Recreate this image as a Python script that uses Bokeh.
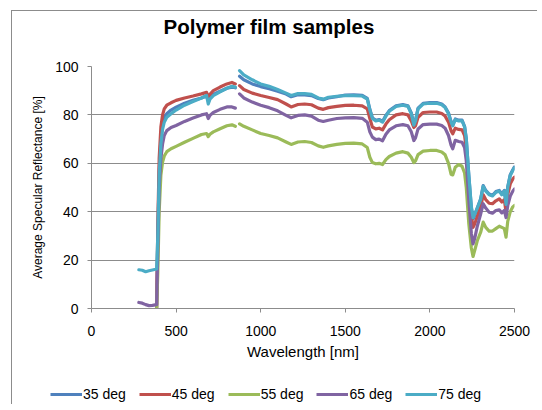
import math
from bokeh.plotting import figure
from bokeh.models import Legend, LegendItem, Range1d, FixedTicker, Title
from bokeh.embed import file_html
from bokeh.resources import INLINE

NAN = float("nan")

# Wavelength grid [nm]; NaN marks the detector-change gap
wavelength = [280, 300, 320, 340, 360, 385, 392, 400, 410, 420, 430, 445, 470, 500, 550, 600, 650, 680, 690, 700,
              720, 760, 800, 830, 850, NAN, 875, 900, 950, 1000, 1050, 1100, 1150, 1180, 1220, 1260, 1300, 1340,
              1370, 1400, 1450, 1500, 1550, 1600, 1630, 1645, 1660, 1680, 1700, 1720, 1740, 1760, 1800, 1840,
              1870, 1890, 1905, 1915, 1930, 1960, 2000, 2040, 2070, 2090, 2110, 2125, 2135, 2150, 2170, 2190,
              2205, 2215, 2230, 2245, 2255, 2265, 2280, 2300, 2315, 2330, 2350, 2370, 2390, 2410, 2425, 2440,
              2450, 2460, 2475, 2490, 2500]

deg35 = [NAN, NAN, NAN, NAN, NAN, 0.5, 30, 57, 70, 76, 79, 80.5, 82, 83.2, 84.8, 86, 87, 87.8, 86.5, 87,
         88.5, 89.8, 91, 91.5, 91.2, NAN, 96, 94.5, 92.8, 91.7, 90.8, 89.8, 88.6, 87.5, 88.3, 88.3, 88, 86.8,
         86.3, 87, 87.5, 88.2, 88.3, 88.1, 86.8, 82.3, 78.8, 77.8, 78.1, 77.3, 79.8, 81.8, 83.8, 84.3,
         83.8, 80.8, 76.1, 77.8, 82.8, 84.8, 85.1, 85.1, 84.5, 83.3, 80.8, 77.3, 75.8, 78.3, 77.8, 77.8,
         75.3, 70.3, 55, 41.5, 37, 38.5, 41.5, 45.3, 50.8, 48.8, 47.3, 46.8, 48.3, 48.8, 47.3, 48.8,
         43.3, 50.3, 55.3, 57.3, 58.5]

deg45 = [NAN, NAN, NAN, NAN, NAN, 0, 35, 62, 75, 80, 82.5, 84, 85, 86, 87, 87.8, 88.7, 89.3, 87.5, 88.5,
         90, 91.5, 92.8, 93.4, 92.8, NAN, 92.1, 90.5, 89, 88, 87.2, 86.3, 84.5, 83.3, 84.3, 84.5, 84.2, 82.8,
         82.3, 83, 83.5, 83.9, 84, 83.7, 82.5, 78.5, 75, 74.2, 74.5, 73.8, 76.2, 78, 80, 80.5,
         80, 77.5, 74.8, 75.5, 79, 81, 81.2, 81.2, 80.6, 79.5, 77, 73.5, 72.2, 74.5, 74, 73.8,
         71.5, 66, 50, 38, 33.5, 35, 38, 42, 47, 45, 43.5, 43.3, 44.5, 45.3, 44, 45,
         39.8, 47, 51.5, 53.5, 54.3]

deg55 = [NAN, NAN, NAN, NAN, NAN, 0, 15, 40, 55, 60.5, 63, 64.8, 66, 67, 68.7, 70.3, 71.9, 72.3, 71, 72,
         73, 74.3, 75.5, 75.9, 75.3, NAN, 76.3, 75.3, 73.8, 72.3, 71.5, 70.5, 68.8, 67.8, 68.8, 69, 68.6, 67.2,
         66.6, 67.2, 67.8, 68.2, 68.3, 68, 66.5, 62.5, 60.3, 59.8, 60, 59.5, 61.5, 62.8, 64.2, 64.8,
         64.2, 62.5, 60.3, 61, 63.6, 65, 65.3, 65.3, 64.7, 63.5, 60, 55.5, 55.2, 58.4, 59.5, 58.8,
         56, 50, 35, 25, 21.5, 24, 28, 31.5, 35.7, 33.5, 32, 32, 33, 34, 33.5, 33,
         29.5, 36, 40, 42, 42.6]

deg65 = [2.5, 2.2, 1.6, 1.2, 1.3, 1.6, 25, 50, 62, 68, 71.5, 73.5, 74.8, 75.6, 77.3, 78.7, 80, 80.5, 78.5, 79.8,
         81, 82.3, 83.3, 83.3, 82.8, NAN, 88.7, 87, 85.3, 84, 83, 81.7, 79.8, 78.8, 79.8, 80, 79.5, 77.8,
         77.3, 77.8, 78.5, 78.8, 78.9, 78.6, 77, 73, 70.8, 69.8, 70, 69.3, 72, 73.8, 75.5, 76,
         75.5, 73, 69.4, 70.5, 74.2, 76, 76.2, 76.2, 75.6, 74.5, 71.5, 67.5, 66, 69.5, 69, 68.7,
         66.5, 61, 45, 31, 26.7, 29, 34, 39, 43.3, 41.5, 39.8, 39.4, 40.5, 40.8, 39.5, 40.5,
         37.6, 42.5, 46.5, 48.5, 49.4]

deg75 = [16.0, 15.8, 15.2, 15.6, 15.9, 16.3, 30, 55, 68, 74, 77, 79, 80.5, 82, 84, 85.5, 87, 88, 84.5, 86.5,
         88, 89.5, 91, 91.8, 91.5, NAN, 98.3, 96.5, 94.5, 92.8, 91.8, 90.5, 89, 88, 88.8, 88.8, 88.5, 87,
         86.5, 87.3, 87.7, 88, 88, 87.8, 86.5, 82, 78.5, 77.5, 77.8, 77, 79.5, 81.5, 83.5, 84,
         83.5, 80.5, 75.8, 77.5, 82.5, 84.5, 84.8, 84.8, 84.2, 83, 80.5, 77, 75.5, 78, 77.5, 77.5,
         75, 70, 55, 42, 37.5, 39, 41.5, 45, 50.5, 48.5, 47, 46.5, 48, 48.5, 47, 48.5,
         43, 50, 55, 57, 58.2]

series_names = ["35 deg", "45 deg", "55 deg", "65 deg", "75 deg"]
series_values = [deg35, deg45, deg55, deg65, deg75]
series_colors = ["#4F81BD", "#C0504D", "#9BBB59", "#8064A2", "#4BACC6"]

x_ticks = [0, 500, 1000, 1500, 2000, 2500]
y_ticks = [0, 20, 40, 60, 80, 100]

FONT = "Liberation Sans"
BORDER = "1px solid #8c8c8c"

p = figure(width=526, height=357, output_backend="svg", toolbar_location=None, title=None,
           x_range=Range1d(0, 2500), y_range=Range1d(0, 100),
           min_border_left=79, min_border_right=24, min_border_top=55, min_border_bottom=60)
p.margin = (10, 0, 0, 11)
p.styles = {"border-left": BORDER, "border-top": BORDER}

# spacer keeps the title well above the plot area
p.add_layout(Title(text=" ", text_font=FONT, text_font_size="24px", standoff=0), "above")
p.add_layout(Title(text="Polymer film samples", align="left", offset=72,
                   text_font=FONT, text_font_size="20.5px", text_font_style="bold",
                   text_color="#000000", standoff=0), "above")

p.outline_line_color = None
p.background_fill_color = "white"
p.border_fill_color = "white"

p.xgrid.grid_line_color = None
p.ygrid.grid_line_color = "#8c8c8c"
p.ygrid.grid_line_width = 1

for ax in (p.xaxis, p.yaxis):
    ax.axis_line_color = "#8c8c8c"
    ax.major_tick_line_color = "#8c8c8c"
    ax.minor_tick_line_color = None
    ax.major_tick_out = 4
    ax.major_tick_in = 0
    ax.major_label_text_font = FONT
    ax.major_label_text_font_size = "14px"
    ax.major_label_text_color = "#000000"
    ax.axis_label_text_font = FONT
    ax.axis_label_text_font_style = "normal"
    ax.axis_label_text_color = "#000000"

p.xaxis.axis_label_text_font_size = "15px"
p.yaxis.axis_label_text_font_size = "12px"
p.xaxis.ticker = FixedTicker(ticks=x_ticks)
p.yaxis.ticker = FixedTicker(ticks=y_ticks)
p.xaxis.axis_label = "Wavelength [nm]"
p.yaxis.axis_label = "Average Specular Reflectance [%]"
p.xaxis.major_label_standoff = 13
p.xaxis.axis_label_standoff = 4
p.yaxis.major_label_standoff = 9
p.yaxis.axis_label_standoff = 7

for name, vals, col in zip(series_names, series_values, series_colors):
    p.line(wavelength, vals, line_color=col, line_width=3.2, line_join="round", line_cap="round")

# legend strip below the chart (separate root, so its frame is not aligned to the chart's)
leg = figure(width=526, height=37, output_backend="svg", toolbar_location=None,
             x_range=Range1d(0, 1), y_range=Range1d(0, 1),
             x_axis_location=None, y_axis_location=None,
             min_border_left=0, min_border_right=0, min_border_top=0, min_border_bottom=0)
leg.margin = (0, 0, 0, 11)
leg.styles = {"border-left": BORDER}
leg.outline_line_color = None
leg.xgrid.grid_line_color = None
leg.ygrid.grid_line_color = None
leg.background_fill_color = "white"
leg.border_fill_color = "white"

items = []
for name, col in zip(series_names, series_colors):
    # swatch-only renderer, kept outside the visible range
    r = leg.line([2, 3], [2, 2], line_color=col, line_width=3.2)
    items.append(LegendItem(label=name, renderers=[r]))

legend = Legend(items=items, orientation="horizontal", location=(38, 2),
                glyph_width=32, glyph_height=14, label_standoff=1, spacing=13,
                padding=0, margin=0, border_line_color=None, background_fill_alpha=0,
                label_text_font=FONT, label_text_font_size="14px", label_text_color="#000000")
leg.add_layout(legend, "center")

open("out.html", "w").write(file_html([p, leg], INLINE))
